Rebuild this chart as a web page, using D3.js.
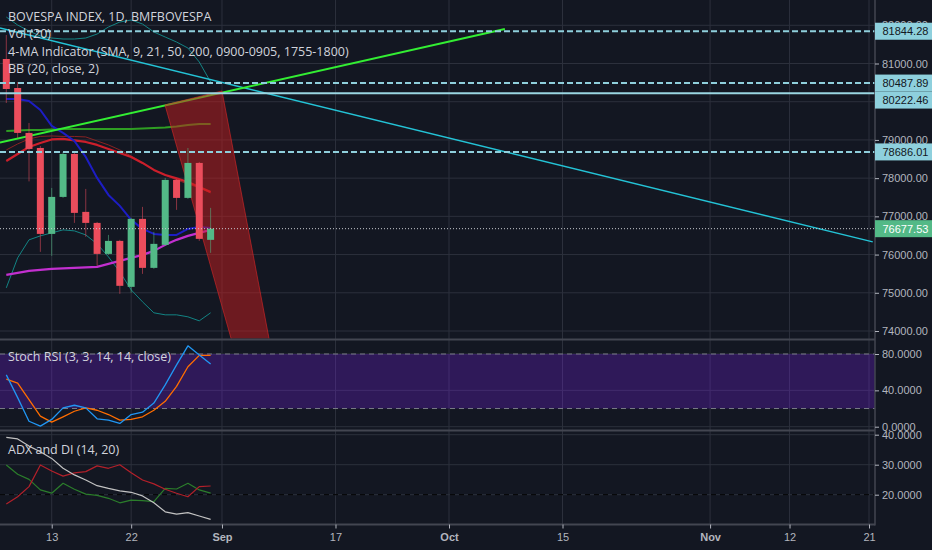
<!DOCTYPE html>
<html>
<head>
<meta charset="utf-8">
<script src="https://d3js.org/d3.v7.min.js"></script>
<style>
  body { margin: 0; background: #131722; }
  svg { display: block; }
  .legend { font-family: "Open Sans", sans-serif; font-size: 12.5px; fill: #d1d4dc; }
  .axis text { font-family: "Liberation Sans", Arial, sans-serif; font-size: 11px; fill: #b2b5be; }
</style>
</head>
<body>
<script>
var w = 932;
var h = 550;

// trading days shown as candles
var dates = ["2018-08-07", "2018-08-08", "2018-08-09", "2018-08-10", "2018-08-13", "2018-08-14",
  "2018-08-15", "2018-08-16", "2018-08-17", "2018-08-20", "2018-08-21", "2018-08-22", "2018-08-23",
  "2018-08-24", "2018-08-27", "2018-08-28", "2018-08-29", "2018-08-30", "2018-08-31"];
var open  = [81118, 80359, 79183, 78790, 76541, 77509, 78633, 77117, 76829, 76018, 76358, 75155, 76934, 75652, 76254, 77954, 77483, 78398, 76385];
var high  = [81745, 80516, 79444, 78843, 77744, 78686, 78660, 77718, 76855, 76515, 76385, 76960, 77248, 76594, 78006, 77980, 78790, 78424, 77222];
var low   = [79967, 79052, 77915, 76071, 75966, 77483, 76829, 76463, 75705, 75992, 74973, 74999, 75495, 75626, 76228, 77170, 77457, 76358, 76045];
var close = [80333, 79183, 78764, 76541, 77509, 78633, 77091, 76829, 76018, 76358, 75182, 76934, 75652, 76280, 77954, 77483, 78398, 76411, 76677.53];

// 4-MA indicator
var sma9   = [80072, 80072, 80019, 79784, 79366, 79183, 78973, 78555, 78006, 77561, 77274, 76908, 76672, 76541, 76515, 76515, 76672, 76724, 76698];
var sma21  = [75469, 75521, 75573, 75600, 75626, 75639, 75652, 75665, 75678, 75757, 75835, 75913, 75992, 76097, 76254, 76385, 76489, 76568, 76646];
var sma50  = [78450, 78633, 78816, 78921, 79013, 79026, 78986, 78947, 78869, 78764, 78660, 78555, 78398, 78215, 78084, 77993, 77901, 77770, 77640];
var sma200 = [79235, 79248, 79261, 79261, 79274, 79287, 79287, 79287, 79287, 79287, 79287, 79287, 79300, 79313, 79326, 79353, 79392, 79418, 79418];

// bollinger bands
var bbBasis = [78738, 78895, 79026, 79091, 79104, 79091, 79091, 79078, 78973, 78869, 78738, 78581, 78398, 78215, 78084, 77954, 77849, 77744, 77614];
var bbUpper = [82216, 82007, 81850, 81719, 81667, 81641, 81641, 81667, 81771, 81955, 82085, 82138, 82033, 81824, 81693, 81562, 81405, 81039, 80516];
var bbLower = [75129, 75914, 76385, 76489, 76568, 76646, 76620, 76515, 76280, 75940, 75547, 75077, 74763, 74476, 74423, 74423, 74371, 74266, 74476];

// stoch rsi
var stochK = [57, 32, 6, 0.7, 8, 20.7, 23.6, 20.7, 8.7, 7.2, 3.6, 13.4, 16, 26, 46, 68, 89, 79, 69];
var stochD = [52.3, 48, 29.8, 11.6, 5, 10.9, 17, 20.7, 18.1, 13.4, 7.2, 8, 10.9, 18.1, 27.9, 44.3, 66, 78.5, 78.5];

// adx and di
var adx     = [39.1, 38.6, 36.2, 34.3, 32.1, 28.8, 26.6, 24.9, 23, 22.1, 21.3, 20.8, 19.6, 17.3, 14.3, 13.5, 14, 12.9, 11.8];
var diPlus  = [16.9, 19.3, 22.7, 29.9, 27.9, 26.2, 27.3, 27.7, 29.6, 28.8, 30, 27.3, 24.9, 23.6, 21.8, 20.5, 19.3, 22.7, 22.9];
var diMinus = [29.9, 26.8, 25.1, 21.6, 20.5, 23.8, 21.8, 20.2, 19.8, 18.8, 17.3, 18.2, 18, 17.7, 22.1, 21.9, 23.8, 21.6, 20.5];

// drawings: [bar index, price]
var trendCyan = [[-0.56, 81928], [76.33, 76332]];
var trendLime = [[-0.56, 78929], [43.92, 81902]];
var redZone = [[13.98, 79915], [19.0, 80281], [24.17, 72201], [21.33, 72201]];
var levelsDashed = [81844.28, 80487.89, 78686.01];
var levelsSolid = [80222.46];

// time axis
var tickDates = ["2018-08-13", "2018-08-22", "2018-09-03", "2018-09-17", "2018-10-01", "2018-10-15", "2018-11-01", "2018-11-12", "2018-11-21"];
var tickLabels = ["13", "22", "Sep", "17", "Oct", "15", "Nov", "12", "21"];

var priceTicks = [74000, 75000, 76000, 77000, 78000, 79000, 80000, 81000, 82000];
var stochTicks = [0, 40, 80];
var adxTicks = [20, 30, 40];

var parse = d3.timeParse("%Y-%m-%d");
var start = parse(dates[0]);
// count weekdays from the first bar
function barIndex(s) {
  return d3.timeDays(start, parse(s)).filter(function(d) { return d.getDay() % 6 != 0; }).length;
}
var idx = dates.map(barIndex);

var axisX = 875;
var x = d3.scaleLinear().domain([0, 76]).range([6.3, 869]);
var yMain = d3.scaleLinear().domain([74000, 81000]).range([331, 63.5]);
var yStoch = d3.scaleLinear().domain([0, 80]).range([426.7, 354]);
var yAdx = d3.scaleLinear().domain([20, 30]).range([494.7, 464.7]);

var panes = {
  main: [0, 338.5],
  stoch: [340.5, 429.5],
  adx: [431.5, 524.5]
};

var svg = d3.select("body").append("svg")
  .attr("width", w)
  .attr("height", h);

svg.append("rect").attr("width", w).attr("height", h).attr("fill", "#131722");

var defs = svg.append("defs");
Object.keys(panes).forEach(function(k) {
  defs.append("clipPath").attr("id", "clip-" + k)
    .append("rect")
    .attr("x", 0).attr("y", panes[k][0])
    .attr("width", axisX).attr("height", panes[k][1] - panes[k][0]);
});

var gridColor = "#2c303c";

// vertical grid
var tickIdx = tickDates.map(barIndex);
svg.append("g").selectAll("line")
  .data(tickIdx)
  .enter().append("line")
  .attr("x1", function(d) { return x(d); })
  .attr("x2", function(d) { return x(d); })
  .attr("y1", 0).attr("y2", panes.adx[1])
  .attr("stroke", gridColor);

// horizontal grid
function hgrid(vals, scale, pane) {
  svg.append("g").attr("clip-path", "url(#clip-" + pane + ")")
    .selectAll("line").data(vals).enter().append("line")
    .attr("x1", 0).attr("x2", axisX)
    .attr("y1", function(d) { return scale(d); })
    .attr("y2", function(d) { return scale(d); })
    .attr("stroke", gridColor);
}
hgrid(priceTicks, yMain, "main");
hgrid(stochTicks, yStoch, "stoch");
hgrid(adxTicks, yAdx, "adx");

// ---- main pane ----
var main = svg.append("g").attr("clip-path", "url(#clip-main)");

function seriesLine(g, vals, scale, color, width) {
  var line = d3.line()
    .x(function(d, i) { return x(idx[i]); })
    .y(function(d) { return scale(d); });
  g.append("path")
    .datum(vals)
    .attr("d", line)
    .attr("fill", "none")
    .attr("stroke", color)
    .attr("stroke-width", width)
    .attr("stroke-linejoin", "round");
}

var ptLine = d3.line()
  .x(function(d) { return x(d[0]); })
  .y(function(d) { return yMain(d[1]); });

seriesLine(main, bbUpper, yMain, "#138484", 1);
seriesLine(main, bbLower, yMain, "#138484", 1);
seriesLine(main, sma200, yMain, "#2f9e23", 2);
seriesLine(main, bbBasis, yMain, "#872323", 1);
seriesLine(main, sma50, yMain, "#cc1f2b", 2.2);
seriesLine(main, sma21, yMain, "#c22fcf", 2.2);
seriesLine(main, sma9, yMain, "#1d1dc4", 2);

main.append("path").datum(trendCyan).attr("d", ptLine)
  .attr("fill", "none").attr("stroke", "#24c3d6").attr("stroke-width", 1.5);
main.append("path").datum(trendLime).attr("d", ptLine)
  .attr("fill", "none").attr("stroke", "#33ee33").attr("stroke-width", 2);

main.append("path").datum(redZone)
  .attr("d", function(d) { return ptLine(d) + "Z"; })
  .attr("fill", "rgba(200,30,30,0.5)")
  .attr("stroke", "rgba(220,40,40,0.6)")
  .attr("stroke-width", 1);

// candles
var upColor = "#53b987", downColor = "#eb4d5c";
var candles = main.append("g").selectAll("g")
  .data(idx)
  .enter().append("g");
candles.append("line")
  .attr("x1", function(d) { return x(d); })
  .attr("x2", function(d) { return x(d); })
  .attr("y1", function(d, i) { return yMain(high[i]); })
  .attr("y2", function(d, i) { return yMain(low[i]); })
  .attr("stroke", function(d, i) { return close[i] >= open[i] ? upColor : downColor; })
  .attr("stroke-opacity", 0.55);
candles.append("rect")
  .attr("x", function(d) { return x(d) - 3.5; })
  .attr("width", 7)
  .attr("y", function(d, i) { return yMain(Math.max(open[i], close[i])); })
  .attr("height", function(d, i) { return Math.max(1, Math.abs(yMain(open[i]) - yMain(close[i]))); })
  .attr("fill", function(d, i) { return close[i] >= open[i] ? upColor : downColor; });

// horizontal levels
main.selectAll(".lvd").data(levelsDashed).enter().append("line")
  .attr("x1", 0).attr("x2", axisX)
  .attr("y1", function(d) { return yMain(d); })
  .attr("y2", function(d) { return yMain(d); })
  .attr("stroke", "#8fcfdc").attr("stroke-width", 2).attr("stroke-dasharray", "6,3");
main.selectAll(".lvs").data(levelsSolid).enter().append("line")
  .attr("x1", 0).attr("x2", axisX)
  .attr("y1", function(d) { return yMain(d); })
  .attr("y2", function(d) { return yMain(d); })
  .attr("stroke", "#9ad6e2").attr("stroke-width", 2);

var lastPrice = close[close.length - 1];
main.append("line")
  .attr("x1", 0).attr("x2", axisX)
  .attr("y1", yMain(lastPrice)).attr("y2", yMain(lastPrice))
  .attr("stroke", "#c8cad0").attr("stroke-width", 1).attr("stroke-dasharray", "1,2");

// ---- stoch rsi pane ----
var stoch = svg.append("g").attr("clip-path", "url(#clip-stoch)");
stoch.append("rect")
  .attr("x", 0).attr("width", axisX)
  .attr("y", yStoch(80)).attr("height", yStoch(20) - yStoch(80))
  .attr("fill", "rgba(130,30,255,0.25)");
stoch.selectAll(".band").data([80, 20]).enter().append("line")
  .attr("x1", 0).attr("x2", axisX)
  .attr("y1", function(d) { return yStoch(d); })
  .attr("y2", function(d) { return yStoch(d); })
  .attr("stroke", "#787b86").attr("stroke-dasharray", "5,4");
seriesLine(stoch, stochD, yStoch, "#ff6d00", 1.3);
seriesLine(stoch, stochK, yStoch, "#2196f3", 1.3);

// ---- adx pane ----
var adxG = svg.append("g").attr("clip-path", "url(#clip-adx)");
adxG.append("line")
  .attr("x1", 0).attr("x2", axisX)
  .attr("y1", yAdx(20)).attr("y2", yAdx(20))
  .attr("stroke", "#000").attr("stroke-dasharray", "5,4");
seriesLine(adxG, diMinus, yAdx, "#2b7d2b", 1.2);
seriesLine(adxG, diPlus, yAdx, "#b3202a", 1.2);
seriesLine(adxG, adx, yAdx, "#c2c2c2", 1.2);

// pane borders
var border = "#434651";
svg.selectAll(".sep").data([panes.main[1] + 1, panes.stoch[1] + 1, panes.adx[1]]).enter().append("line")
  .attr("x1", 0).attr("x2", axisX)
  .attr("y1", function(d) { return d; }).attr("y2", function(d) { return d; })
  .attr("stroke", border).attr("stroke-width", 2);
svg.append("line")
  .attr("x1", axisX).attr("x2", axisX).attr("y1", 0).attr("y2", panes.adx[1] + 1)
  .attr("stroke", border).attr("stroke-width", 1.5);

// ---- legends ----
var legend = svg.append("g").attr("class", "legend");
legend.append("text").attr("x", 8).attr("y", 21).text("BOVESPA INDEX, 1D, BMFBOVESPA");
legend.append("text").attr("x", 8).attr("y", 38).text("Vol (20)");
legend.append("text").attr("x", 8).attr("y", 56).text("4-MA Indicator (SMA, 9, 21, 50, 200, 0900-0905, 1755-1800)");
legend.append("text").attr("x", 8).attr("y", 73).text("BB (20, close, 2)");
legend.append("text").attr("x", 8).attr("y", 360.5).text("Stoch RSI (3, 3, 14, 14, close)");
legend.append("text").attr("x", 8).attr("y", 453.5).text("ADX and DI (14, 20)");

// ---- right axes ----
function rightAxis(scale, vals, fmt, pane) {
  var g = svg.append("g").attr("class", "axis")
    .attr("transform", "translate(" + axisX + ",0)")
    .call(d3.axisRight(scale).tickValues(vals).tickFormat(d3.format(fmt)).tickSize(4).tickPadding(3));
  g.select(".domain").remove();
  g.selectAll(".tick line").attr("stroke", "#b2b5be");
  g.selectAll(".tick").filter(function(d) {
    var y = scale(d);
    return y < panes[pane][0] - 8 || y > panes[pane][1] + 8;
  }).remove();
  return g;
}
rightAxis(yMain, priceTicks, ".2f", "main");
rightAxis(yStoch, stochTicks, ".4f", "stoch");
rightAxis(yAdx, adxTicks, ".4f", "adx");

// price labels on the axis
var labels = levelsDashed.concat(levelsSolid).sort(function(a, b) { return b - a; })
  .map(function(v) { return { v: v, y: yMain(v), fill: "#8ed0dd", color: "#131722" }; });
for (var i = 1; i < labels.length; i++) {
  if (labels[i].y - labels[i - 1].y < 17) labels[i].y = labels[i - 1].y + 17;
}
labels.push({ v: lastPrice, y: yMain(lastPrice), fill: "#53b987", color: "#ffffff" });

var lab = svg.append("g").attr("class", "axis").selectAll("g")
  .data(labels).enter().append("g")
  .attr("transform", function(d) { return "translate(" + axisX + "," + d.y + ")"; });
lab.append("rect")
  .attr("x", 0).attr("y", -8.5).attr("width", w - axisX).attr("height", 17)
  .attr("fill", function(d) { return d.fill; });
lab.append("text")
  .attr("x", 7.5).attr("dy", "0.35em")
  .style("fill", function(d) { return d.color; })
  .text(function(d) { return d3.format(".2f")(d.v); });

// ---- time axis ----
var tAxis = svg.append("g").attr("class", "axis")
  .attr("transform", "translate(0," + panes.adx[1] + ")")
  .call(d3.axisBottom(x).tickValues(tickIdx)
    .tickFormat(function(d, i) { return tickLabels[i]; })
    .tickSize(4).tickPadding(5));
tAxis.select(".domain").remove();
tAxis.selectAll(".tick line").attr("stroke", "#b2b5be");
tAxis.selectAll(".tick text")
  .style("font-weight", function(d, i) { return isNaN(+tickLabels[i]) ? "bold" : "normal"; });
</script>
</body>
</html>
